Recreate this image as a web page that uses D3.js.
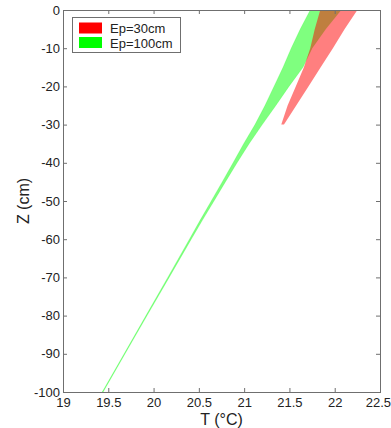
<!DOCTYPE html>
<html>
<head>
<meta charset="utf-8">
<script src="https://cdn.jsdelivr.net/npm/d3@7"></script>
<style>
  html, body { margin: 0; padding: 0; background: #fff; }
  svg { display: block; font-family: "Liberation Sans", Arial, sans-serif; }
</style>
</head>
<body>
<svg id="chart" width="391" height="428"></svg>
<script>
// Temperature envelopes (min / max over time) versus depth
const seriesNames = ["Ep=30cm", "Ep=100cm"];

// Ep=30cm profile
const redDepth = [0, -5, -10, -15, -20, -25, -30];
const redMin   = [21.84, 21.78, 21.73, 21.66, 21.57, 21.48, 21.41];
const redMax   = [22.25, 22.11, 21.98, 21.845, 21.71, 21.575, 21.44];

// Ep=100cm profile
const greenDepth = [0, -5, -10, -15, -20, -25, -30, -35, -40, -45, -50, -55, -60, -70, -80, -90, -100];
const greenMin   = [21.73, 21.62, 21.52, 21.43, 21.33, 21.23, 21.12, 20.995, 20.878, 20.758, 20.637, 20.515, 20.396, 20.157, 19.916, 19.675, 19.433];
const greenMax   = [22.07, 21.90, 21.75, 21.65, 21.495, 21.35, 21.20, 21.055, 20.922, 20.793, 20.667, 20.54, 20.416, 20.172, 19.928, 19.685, 19.443];

// Axis ticks
const xTicks = [19, 19.5, 20, 20.5, 21, 21.5, 22, 22.5];
const yTicks = [0, -10, -20, -30, -40, -50, -60, -70, -80, -90, -100];

const svg = d3.select("#chart");
const plotLeft = 63, plotRight = 380, plotTop = 10, plotBottom = 392;

const x = d3.scaleLinear().domain([19, 22.5]).range([plotLeft, plotRight]);
const y = d3.scaleLinear().domain([-100, 0]).range([plotBottom, plotTop]);

const frameColor = "#6f6f6f";
const textColor = "#222";

// Bands
function band(depth, tmin, tmax) {
  return depth.map((z, i) => ({ z, lo: tmin[i], hi: tmax[i] }));
}
const area = d3.area()
  .y(d => y(d.z))
  .x0(d => x(d.lo))
  .x1(d => x(d.hi));

svg.append("clipPath").attr("id", "plot-clip")
  .append("rect").attr("x", plotLeft).attr("y", plotTop)
  .attr("width", plotRight - plotLeft).attr("height", plotBottom - plotTop);

const plot = svg.append("g").attr("clip-path", "url(#plot-clip)");
plot.append("path")
  .datum(band(greenDepth, greenMin, greenMax))
  .attr("d", area)
  .attr("fill", "rgb(0,255,0)")
  .attr("fill-opacity", 0.5)
  .attr("stroke", "rgb(0,255,0)")
  .attr("stroke-opacity", 0.3)
  .attr("stroke-width", 0.6);
plot.append("path")
  .datum(band(redDepth, redMin, redMax))
  .attr("d", area)
  .attr("fill", "rgb(255,0,0)")
  .attr("fill-opacity", 0.5);

// Axes (ticks point inward)
const xAxis = d3.axisBottom(x).tickValues(xTicks).tickFormat(d => String(d))
  .tickSizeInner(-4).tickSizeOuter(0).tickPadding(6);
const yAxis = d3.axisLeft(y).tickValues(yTicks).tickFormat(d => String(d))
  .tickSizeInner(-4).tickSizeOuter(0).tickPadding(3);
const xTop = d3.axisTop(x).tickValues(xTicks).tickFormat("")
  .tickSizeInner(-4).tickSizeOuter(0);
const yRight = d3.axisRight(y).tickValues(yTicks).tickFormat("")
  .tickSizeInner(-4).tickSizeOuter(0);

function styleAxis(g) {
  g.select(".domain").remove();
  g.selectAll(".tick line").attr("stroke", frameColor);
  g.selectAll(".tick text").attr("fill", textColor).attr("font-size", 13)
    .attr("font-family", "'Liberation Sans', Arial, sans-serif");
}
const gx = svg.append("g").attr("transform", `translate(0,${plotBottom})`).call(xAxis).call(styleAxis);
// last label sits flush with the right edge of the figure
gx.selectAll(".tick text").filter(d => d === xTicks[xTicks.length - 1])
  .attr("text-anchor", "end").attr("x", 10.5);
svg.append("g").attr("transform", `translate(${plotLeft},0)`).call(yAxis).call(styleAxis);
svg.append("g").attr("transform", `translate(0,${plotTop})`).call(xTop).call(styleAxis);
svg.append("g").attr("transform", `translate(${plotRight},0)`).call(yRight).call(styleAxis);

// Frame
svg.append("rect")
  .attr("x", plotLeft + 0.5).attr("y", plotTop + 0.5)
  .attr("width", plotRight - plotLeft).attr("height", plotBottom - plotTop)
  .attr("fill", "none").attr("stroke", frameColor).attr("stroke-width", 1);

// Axis titles
svg.append("text")
  .attr("x", (plotLeft + plotRight) / 2).attr("y", 425)
  .attr("text-anchor", "middle").attr("font-size", 16).attr("fill", textColor)
  .text("T (°C)");
svg.append("text")
  .attr("transform", `translate(29,${(plotTop + plotBottom) / 2}) rotate(-90)`)
  .attr("text-anchor", "middle").attr("font-size", 16).attr("fill", textColor)
  .text("Z (cm)");

// Legend
const legend = svg.append("g");
legend.append("rect")
  .attr("x", 72.5).attr("y", 17.5).attr("width", 108).attr("height", 35)
  .attr("fill", "#fff").attr("stroke", frameColor);
const legendColors = ["rgb(255,0,0)", "rgb(0,255,0)"];
seriesNames.forEach((name, i) => {
  legend.append("rect")
    .attr("x", 79).attr("y", 22.5 + i * 14.5)
    .attr("width", 23).attr("height", 11)
    .attr("fill", legendColors[i]);
  legend.append("text")
    .attr("x", 110).attr("y", 33 + i * 14.5)
    .attr("font-size", 13).attr("fill", textColor)
    .text(name);
});
</script>
</body>
</html>
